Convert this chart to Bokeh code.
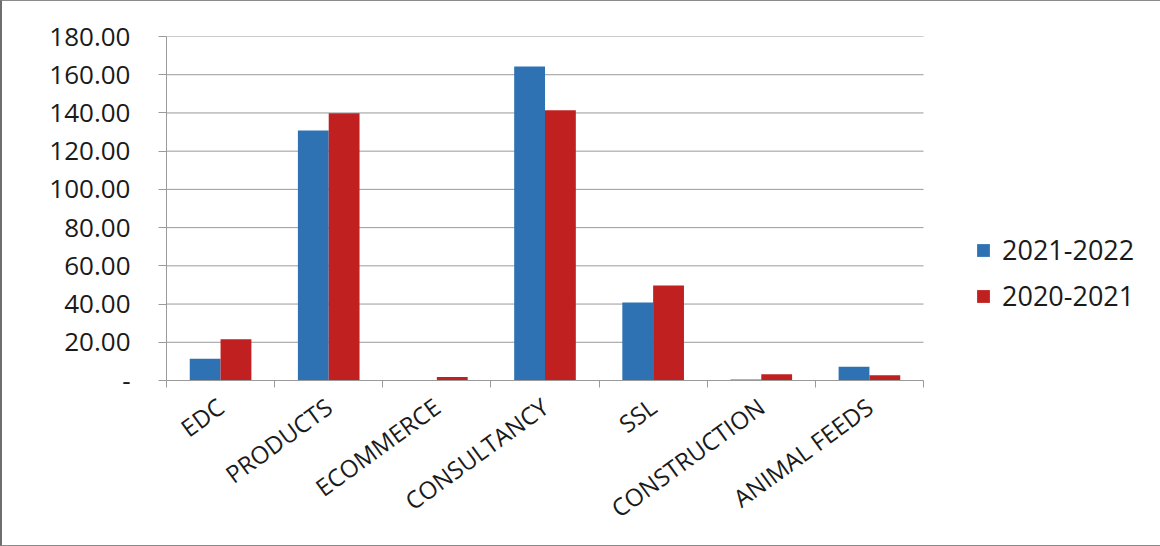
import numpy as np
from bokeh.plotting import figure
from bokeh.models import FixedTicker, Legend, LegendItem, Range1d, NumeralTickFormatter
from bokeh.embed import file_html
from bokeh.resources import INLINE

categories = ["EDC", "PRODUCTS", "ECOMMERCE", "CONSULTANCY", "SSL", "CONSTRUCTION", "ANIMAL FEEDS"]
series_names = ["2021-2022", "2020-2021"]
values_2021_2022 = [11.4, 130.8, 0.2, 164.3, 40.8, 0.5, 7.2]
values_2020_2021 = [21.6, 139.9, 1.8, 141.4, 49.7, 3.3, 2.8]
y_ticks = [0, 20, 40, 60, 80, 100, 120, 140, 160, 180]
colors = ["#2f72b3", "#c0201f"]

FONT = "Open Sans"
GRID = "#9a9a9a"

W, H = 1160, 546
LEFT, TOP, BOTTOM = 164, 35, 167
PLOT_RIGHT = 921            # pixel where the category axis ends
n = len(categories)
centers = np.arange(n) + 0.5
bar_w = 0.285
x_end = n * (W - LEFT) / (PLOT_RIGHT - LEFT)   # frame extends under the legend

p = figure(width=W, height=H, x_range=Range1d(0, x_end), y_range=Range1d(0, 180),
           output_backend="svg", toolbar_location=None,
           min_border_left=LEFT, min_border_right=0, min_border_top=TOP, min_border_bottom=BOTTOM)
p.outline_line_color = None
p.background_fill_color = "white"
p.border_fill_color = "white"

# horizontal grid lines, limited to the category area
p.xgrid.visible = False
p.ygrid.visible = False
p.segment(x0=0, x1=n, y0=y_ticks, y1=y_ticks, line_color=GRID, line_width=1)

r1 = p.vbar(x=centers - bar_w / 2, top=values_2021_2022, width=bar_w, bottom=0,
            fill_color=colors[0], line_color=None)
r2 = p.vbar(x=centers + bar_w / 2, top=values_2020_2021, width=bar_w, bottom=0,
            fill_color=colors[1], line_color=None)

# y axis
ya = p.yaxis[0]
ya.ticker = FixedTicker(ticks=y_ticks)
ya.formatter = NumeralTickFormatter(format="0.00")
ya.major_label_overrides = {0: "-"}
ya.axis_line_color = GRID
ya.major_tick_line_color = GRID
ya.major_tick_out = 8
ya.major_tick_in = 0
ya.minor_tick_line_color = None
ya.major_label_standoff = 28
ya.major_label_text_font = FONT
ya.major_label_text_font_size = "26px"
ya.major_label_text_color = "#1a1a1a"

# x axis
xa = p.xaxis[0]
xa.bounds = (0, n)
xa.ticker = FixedTicker(ticks=centers.tolist(), minor_ticks=list(range(n + 1)))
xa.major_label_overrides = {float(c): name for c, name in zip(centers, categories)}
xa.axis_line_color = GRID
xa.major_tick_line_color = None
xa.minor_tick_line_color = GRID
xa.minor_tick_out = 7
xa.minor_tick_in = 0
xa.major_label_orientation = 0.63
xa.major_label_standoff = 16
xa.major_label_text_font = FONT
xa.major_label_text_font_size = "24px"
xa.major_label_text_color = "#1a1a1a"

legend = Legend(items=[LegendItem(label=series_names[0], renderers=[r1]),
                       LegendItem(label=series_names[1], renderers=[r2])],
                location=(809, 66), orientation="vertical")
legend.glyph_width = 16
legend.glyph_height = 16
legend.label_height = 24
legend.spacing = 9
legend.padding = 0
legend.margin = 0
legend.label_standoff = 11
legend.border_line_color = None
legend.background_fill_alpha = 0
legend.label_text_font = FONT
legend.label_text_font_size = "27px"
legend.label_text_color = "#1a1a1a"
p.add_layout(legend)

p.styles = {"border-left": "2px solid #6e6e6e", "border-top": "1px solid #8a8a8a",
            "border-bottom": "1px solid #8a8a8a", "box-sizing": "border-box"}

open("out.html", "w").write(file_html(p, INLINE))
